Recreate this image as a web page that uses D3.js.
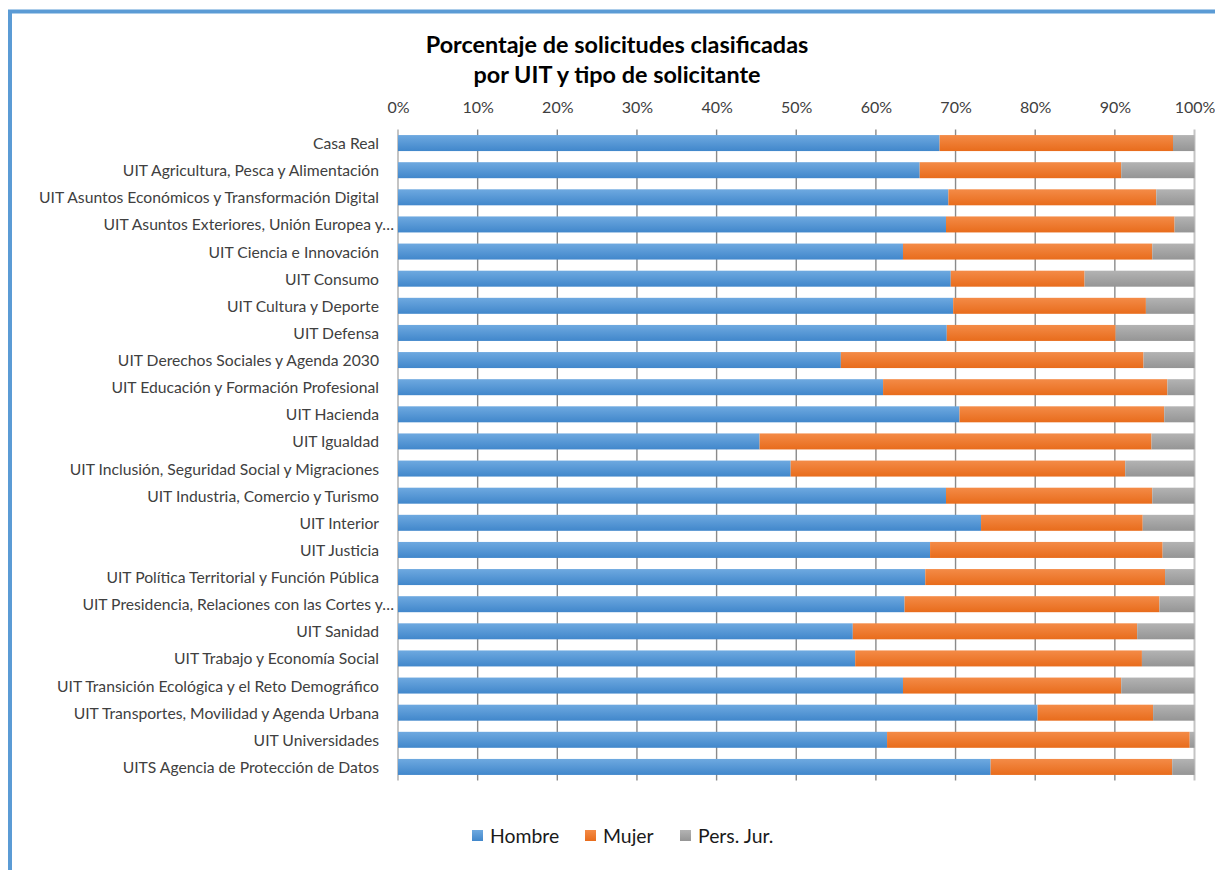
<!DOCTYPE html>
<html><head><meta charset="utf-8">
<script src="https://cdn.jsdelivr.net/npm/d3@7"></script>
<style>
html,body{margin:0;padding:0;background:#fff;}
svg{display:block;font-family:Lato,"Open Sans",sans-serif;}
</style></head>
<body>
<svg id="chart" width="1215" height="870"></svg>
<script>
const titleLines = ["Porcentaje de solicitudes clasificadas", "por UIT y tipo de solicitante"];
const categories = [
  "Casa Real",
  "UIT Agricultura, Pesca y Alimentación",
  "UIT Asuntos Económicos y Transformación Digital",
  "UIT Asuntos Exteriores, Unión Europea y…",
  "UIT Ciencia e Innovación",
  "UIT Consumo",
  "UIT Cultura y Deporte",
  "UIT Defensa",
  "UIT Derechos Sociales y Agenda 2030",
  "UIT Educación y Formación Profesional",
  "UIT Hacienda",
  "UIT Igualdad",
  "UIT Inclusión, Seguridad Social y Migraciones",
  "UIT Industria, Comercio y Turismo",
  "UIT Interior",
  "UIT Justicia",
  "UIT Política Territorial y Función Pública",
  "UIT Presidencia, Relaciones con las Cortes y…",
  "UIT Sanidad",
  "UIT Trabajo y Economía Social",
  "UIT Transición Ecológica y el Reto Demográfico",
  "UIT Transportes, Movilidad y Agenda Urbana",
  "UIT Universidades",
  "UITS Agencia de Protección de Datos"
];
const hombre  = [68.0,65.5,69.1,68.8,63.4,69.4,69.7,68.9,55.6,60.9,70.5,45.4,49.3,68.8,73.2,66.8,66.2,63.6,57.1,57.4,63.4,80.3,61.4,74.4];
const mujer   = [29.3,25.3,26.1,28.7,31.3,16.8,24.2,21.2,38.0,35.7,25.7,49.2,42.0,25.9,20.3,29.2,30.1,32.0,35.7,36.0,27.4,14.5,38.0,22.8];
const persJur = [ 2.7, 9.2, 4.8, 2.5, 5.3,13.8, 6.1, 9.9, 6.4, 3.4, 3.8, 5.4, 8.7, 5.3, 6.5, 4.0, 3.7, 4.4, 7.2, 6.6, 9.2, 5.2, 0.6, 2.8];
const seriesNames = ["Hombre", "Mujer", "Pers. Jur."];
const tickValues = [0,10,20,30,40,50,60,70,80,90,100];
const tickLabels = ["0%","10%","20%","30%","40%","50%","60%","70%","80%","90%","100%"];

const svg = d3.select("#chart");
const W = 1215, H = 870;
svg.append("rect").attr("width", W).attr("height", H).attr("fill", "#fff");

// chart frame (cropped Excel border)
svg.append("path").attr("d", `M10,${H} L10,11.5 L${W},11.5`)
  .attr("fill","none").attr("stroke","#5b9bd5").attr("stroke-width",4);

const colors = {
  "Hombre":    ["#6ea9e0","#4187cb"],
  "Mujer":     ["#f48b47","#e86c1c"],
  "Pers. Jur.":["#b3b3b3","#959595"]
};
const defs = svg.append("defs");
seriesNames.forEach((s,i) => {
  const g = defs.append("linearGradient").attr("id","g"+i).attr("x1",0).attr("y1",0).attr("x2",0).attr("y2",1);
  g.append("stop").attr("offset","0%").attr("stop-color",colors[s][0]);
  g.append("stop").attr("offset","100%").attr("stop-color",colors[s][1]);
});

const x = d3.scaleLinear().domain([0,100]).range([398, 1194.5]);
const y = d3.scaleBand().domain(categories).range([129.5, 780.5]).paddingInner(0.41).paddingOuter(0.205);

// gridlines
const grid = svg.append("g");
grid.selectAll("line").data(tickValues).join("line")
  .attr("x1", d => x(d)).attr("x2", d => x(d))
  .attr("y1", 129.5).attr("y2", 780.5)
  .attr("stroke", d => (d===0||d===100) ? "#c4c4c4" : "#8a8a8a")
  .attr("stroke-width", d => (d===0||d===100) ? 2 : 1.4);

// top axis labels
const xAxis = d3.axisTop(x).tickValues(tickValues).tickFormat((d,i) => tickLabels[i]).tickSize(0).tickPadding(0);
const ax = svg.append("g").attr("transform","translate(0,113)").call(xAxis);
ax.select(".domain").remove();
ax.selectAll("text").attr("fill","#404040").attr("font-size",16).attr("font-family","Lato").attr("dy",0);

// stacked bars
const data = categories.map((c,i) => ({cat:c, "Hombre":hombre[i], "Mujer":mujer[i], "Pers. Jur.":persJur[i]}));
const stack = d3.stack().keys(seriesNames)(data);
svg.append("g").selectAll("g").data(stack).join("g")
  .attr("fill",(d,i) => `url(#g${i})`)
  .selectAll("rect").data(d => d).join("rect")
  .attr("x", d => x(d[0]))
  .attr("width", d => x(d[1]) - x(d[0]))
  .attr("y", d => y(d.data.cat))
  .attr("height", y.bandwidth());

// category labels
svg.append("g").selectAll("text").data(categories).join("text")
  .attr("x", d => d.endsWith("…") ? 394 : 379)
  .attr("y", d => y(d) + y.bandwidth()/2 + 6)
  .attr("text-anchor","end")
  .attr("fill","#404040")
  .attr("font-size",15.7)
  .text(d => d);

// title
svg.append("g").selectAll("text").data(titleLines).join("text")
  .attr("x", 617).attr("y", (d,i) => 53 + i*29.5)
  .attr("text-anchor","middle").attr("font-weight","bold")
  .attr("font-size",23.4).attr("fill","#000")
  .text(d => d);

// legend
const legendX = [472, 585, 680];
const lg = svg.append("g").selectAll("g").data(seriesNames).join("g")
  .attr("transform",(d,i) => `translate(${legendX[i]},830)`);
lg.append("rect").attr("width",11).attr("height",11).attr("fill",(d,i)=>`url(#g${i})`);
lg.append("text").attr("x",18).attr("y",12.5).attr("font-size",19.4).attr("fill","#1a1a1a").text(d=>d);
</script>
</body></html>
